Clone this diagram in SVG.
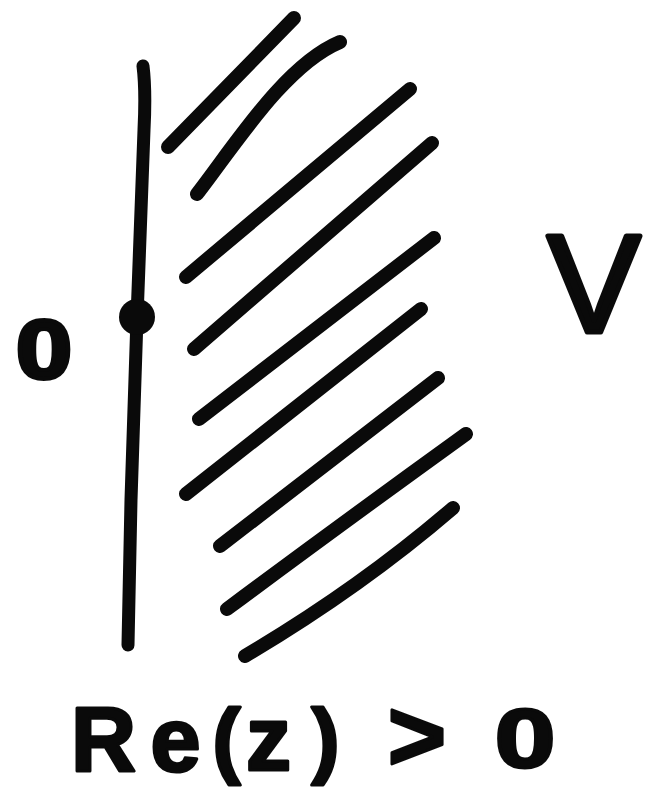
<svg xmlns="http://www.w3.org/2000/svg" width="665" height="792" viewBox="0 0 665 792">
<style>
.ink{fill:none;stroke:#0a0a0a;stroke-linecap:round;stroke-linejoin:round}
.hatch{stroke-width:14}
.lbl{font-family:"Liberation Sans",Arial,sans-serif;font-weight:bold;fill:#0a0a0a;stroke:#0a0a0a;stroke-width:3;stroke-linejoin:round;text-anchor:middle}
</style>
<rect width="665" height="792" fill="#ffffff"/>
<g id="axis">
<path class="ink" stroke-width="13" d="M143,66 Q146,90 144,130 L137,318 L131,500 L128,645"/>
<ellipse cx="137" cy="317" rx="18" ry="18" fill="#0a0a0a"/>
</g>
<g id="hatching" class="ink hatch">
<path d="M168,147 L294,18"/>
<path d="M197,194 C235,145 285,65 340,42"/>
<path d="M186,277 L410,89"/>
<path d="M194,349 L432,143"/>
<path d="M199,419 L434,238"/>
<path d="M186,494 L421,309"/>
<path d="M220,546 L438,378"/>
<path d="M227,609 Q340,525 466,434"/>
<path d="M245,656 Q360,588 453,508"/>
</g>
<g id="labels">
<text class="lbl" transform="translate(44,378) scale(1.2,1)" style="font-size:84px;stroke-width:4px">0</text>
<text class="lbl" x="594" y="332" style="font-size:140px;font-weight:normal;stroke-width:5px">V</text>
<text class="lbl" style="font-size:90px">
<tspan x="116" y="771">R</tspan>
<tspan x="188" y="771">e</tspan>
<tspan x="239" y="768" style="font-size:84px">(</tspan>
<tspan x="281" y="770">z</tspan>
<tspan x="338" y="768" style="font-size:84px">)</tspan>
<tspan x="417" y="770" style="font-size:100px">&gt;</tspan>
</text>
<text class="lbl" transform="translate(525,767) scale(1.3,1)" style="font-size:84px">0</text>
</g>
</svg>
